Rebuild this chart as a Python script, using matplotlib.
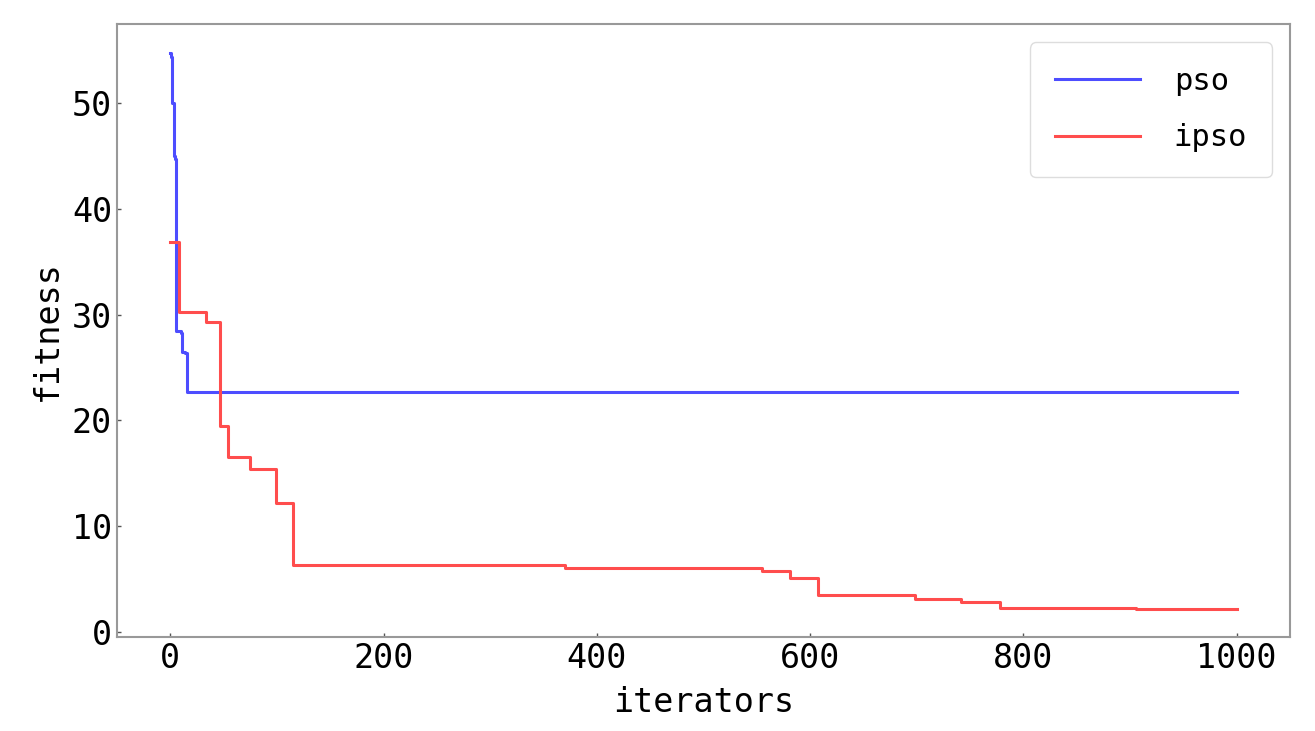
import numpy as np
import matplotlib
matplotlib.use('Agg')
import matplotlib.pyplot as plt

# fitness curves (iteration where a level starts, level)
pso_iter = [0, 1, 2, 3, 4, 5, 10, 11, 14, 16, 1000]
pso_fit = [54.7, 54.3, 50.0, 45.0, 44.7, 28.4, 28.3, 26.5, 26.4, 22.7, 22.7]

ipso_iter = [0, 8, 33, 47, 54, 75, 99, 115, 370, 555, 581, 607, 698, 741, 778, 906, 1000]
ipso_fit = [36.8, 30.2, 29.3, 19.5, 16.6, 15.4, 12.2, 6.4, 6.1, 5.8, 5.1, 3.5, 3.2, 2.9, 2.3, 2.2, 2.2]

plt.rcParams['font.family'] = ['DejaVu Sans Mono']

fig = plt.figure(figsize=(13.15, 7.31), dpi=100)
ax = fig.add_axes([0.089, 0.129, 0.892, 0.838])

ax.step(pso_iter, pso_fit, where='post', color='#4d4dff', lw=2.2, label='pso')
ax.step(ipso_iter, ipso_fit, where='post', color='#ff4d4d', lw=2.2, label='ipso')

ax.set_xlim(-50, 1050)
ax.set_ylim(-0.4, 57.4)
ax.set_xticks([0, 200, 400, 600, 800, 1000])
ax.set_yticks([0, 10, 20, 30, 40, 50])
ax.tick_params(direction='in', length=3, width=1, colors='#555555', labelcolor='black', labelsize=24)
for s in ax.spines.values():
    s.set_color('#999999')
    s.set_linewidth(1.5)

ax.set_xlabel('iterators', fontsize=24, labelpad=8)
ax.set_ylabel('fitness', fontsize=24, labelpad=6)

ax.legend(loc='upper right', fontsize=22, handlelength=2.8, handletextpad=1.1,
          borderpad=0.8, labelspacing=0.9, borderaxespad=0.6,
          framealpha=1, edgecolor='#dddddd')

fig.savefig('out.png', dpi=100)
